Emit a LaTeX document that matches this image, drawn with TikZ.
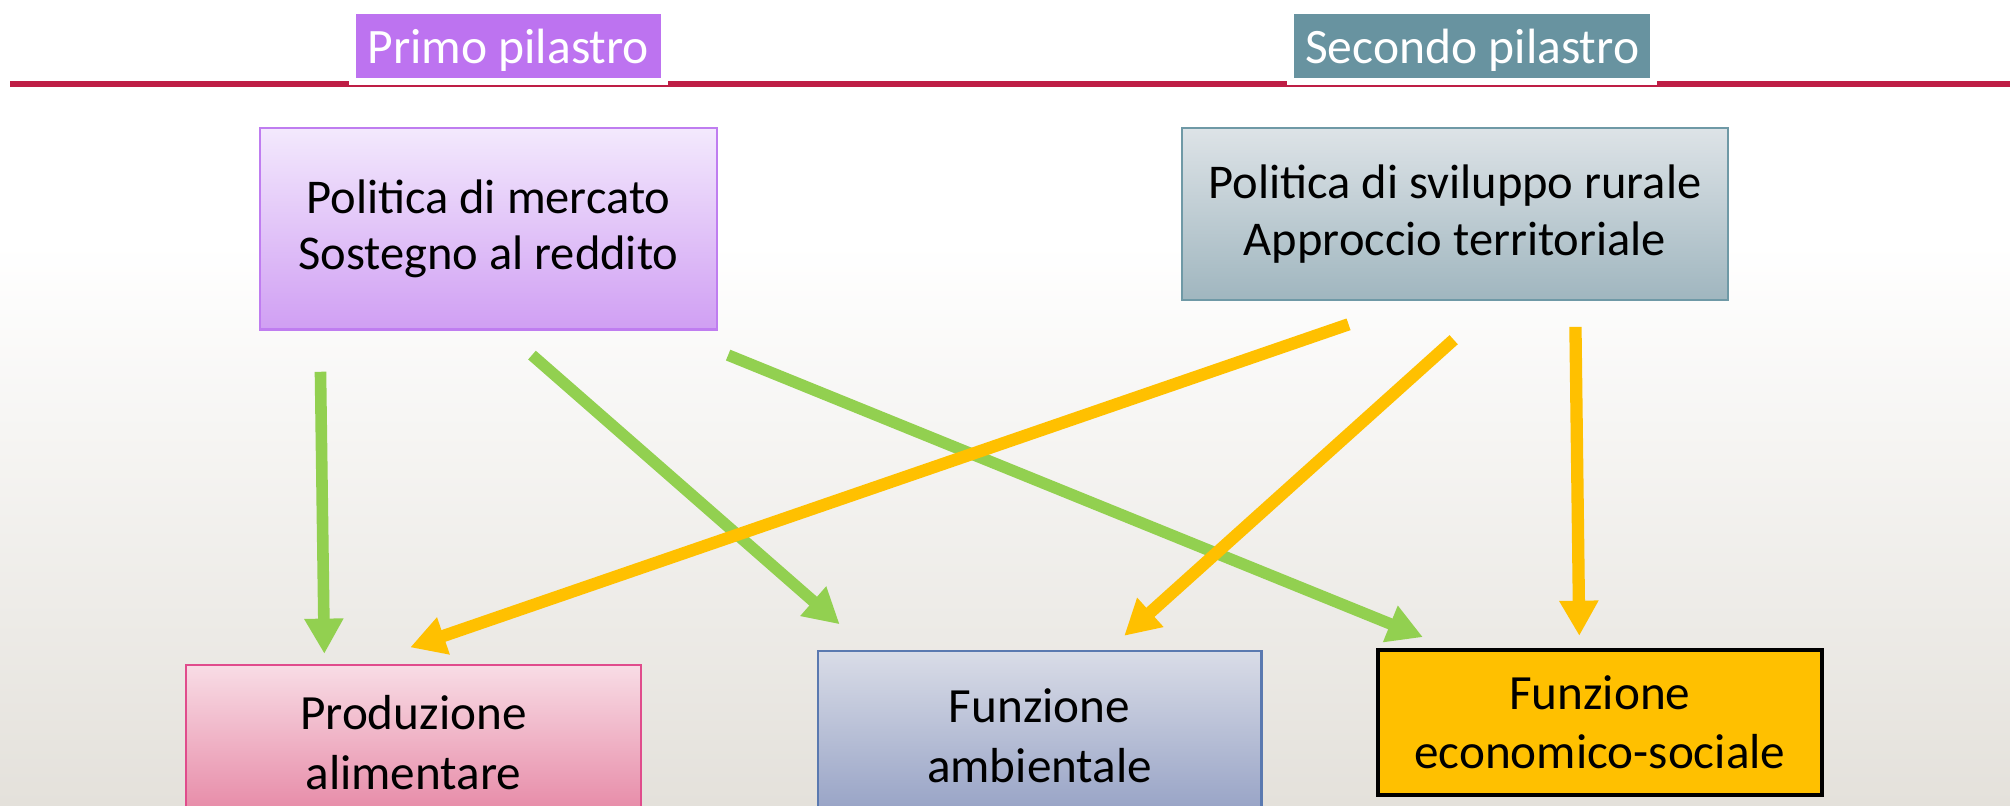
\documentclass[tikz,border=0pt]{standalone}
\usepackage{fontspec}
\setmainfont{Carlito}
\usetikzlibrary{arrows.meta}

\definecolor{bgbot}{RGB}{228,225,219}
\definecolor{rule}{RGB}{190,30,69}
\definecolor{primo}{RGB}{189,115,240}
\definecolor{secondo}{RGB}{104,147,160}
\definecolor{arrgreen}{RGB}{146,208,80}
\definecolor{arrorange}{RGB}{255,192,0}

\begin{document}
\begin{tikzpicture}[x=0.01282cm,y=-0.01282cm,
    pillar/.style={rectangle, draw=white, line width=2pt, text=white, text depth=0pt,
      minimum height=0.705cm, font=\fontsize{14.1}{17}\selectfont},
    policy/.style={rectangle, line width=0.6pt, align=center,
      font=\fontsize{13.8}{16.2}\selectfont},
    task/.style={rectangle, line width=0.6pt, align=center,
      font=\fontsize{14}{17}\selectfont},
    gline/.style={draw=arrgreen, line width=3.3pt,
      -{Triangle[length=10pt,width=10.5pt]}},
    oline/.style={draw=arrorange, line width=3.5pt,
      -{Triangle[length=10pt,width=10.5pt]}}]
                    \useasboundingbox (0,0) rectangle (1568,628);
                    \clip (0,0) rectangle (1568,628);

                    % Drawing background
                    \fill [white] (0,0) rectangle (1568,628);%
                    \shade [top color=white, bottom color=bgbot] (0,190) rectangle (1568,628);%

                    % Drawing rule
                    \draw [rule, line width=1.8pt] (8,65.3) -- (1568,65.3);%

                    % Drawing pillar labels
                    \node [pillar, fill=primo, minimum width=3.115cm] (primo) at (396.5,36) {Primo pilastro};%
                    \node [pillar, fill=secondo, minimum width=3.628cm] (secondo) at (1148.5,36) {Secondo pilastro};%

                    % Drawing policy boxes
                    \node [policy, top color={rgb,255:red,243;green,233;blue,253}, bottom color={rgb,255:red,208;green,159;blue,243},
                      draw={rgb,255:red,191;green,125;blue,240}, minimum width=4.564cm, minimum height=2.013cm]
                      (mercato) at (381,178.5) {Politica di mercato\\Sostegno al reddito};%
                    \node [policy, top color={rgb,255:red,221;green,227;blue,231}, bottom color={rgb,255:red,160;green,182;blue,191},
                      draw={rgb,255:red,111;green,153;blue,166}, minimum width=5.461cm, minimum height=1.718cm]
                      (rurale) at (1135,167) {Politica di sviluppo rurale\\Approccio territoriale};%

                    % Drawing function boxes
                    \node [task, top color={rgb,255:red,248;green,220;blue,229}, bottom color={rgb,255:red,230;green,134;blue,164},
                      draw={rgb,255:red,224;green,76;blue,140}, minimum width=4.551cm, minimum height=1.551cm]
                      (alimentare) at (322.5,579.5) {Produzione\\alimentare};%
                    \node [task, top color={rgb,255:red,217;green,220;blue,231}, bottom color={rgb,255:red,148;green,160;blue,196},
                      draw={rgb,255:red,90;green,121;blue,176}, minimum width=4.436cm, minimum height=1.692cm]
                      (ambientale) at (811,574) {Funzione\\ambientale};%
                    \node [task, fill=arrorange, draw=black, line width=1.2pt, minimum width=4.436cm, minimum height=1.449cm]
                      (sociale) at (1248,563.5) {Funzione\\economico-sociale};%

                    % Marking arrow ends
                    \coordinate (m1) at (250,290);%
                    \coordinate (m2) at (415,277);%
                    \coordinate (m3) at (568,277);%
                    \coordinate (r1) at (1052,253);%
                    \coordinate (r2) at (1134,265);%
                    \coordinate (r3) at (1229,255);%
                    \coordinate (a1) at (253,510);%
                    \coordinate (a2) at (320,505);%
                    \coordinate (b1) at (655,487);%
                    \coordinate (b2) at (877,496);%
                    \coordinate (c1) at (1110,497);%
                    \coordinate (c2) at (1232,496);%

                    % Drawing first pillar arrows
                    \draw [gline] (m1) -- (a1);%
                    \draw [gline] (m2) -- (b1);%
                    \draw [gline] (m3) -- (c1);%

                    % Drawing second pillar arrows
                    \draw [oline] (r1) -- (a2);%
                    \draw [oline] (r2) -- (b2);%
                    \draw [oline] (r3) -- (c2);%
\end{tikzpicture}
\end{document}
